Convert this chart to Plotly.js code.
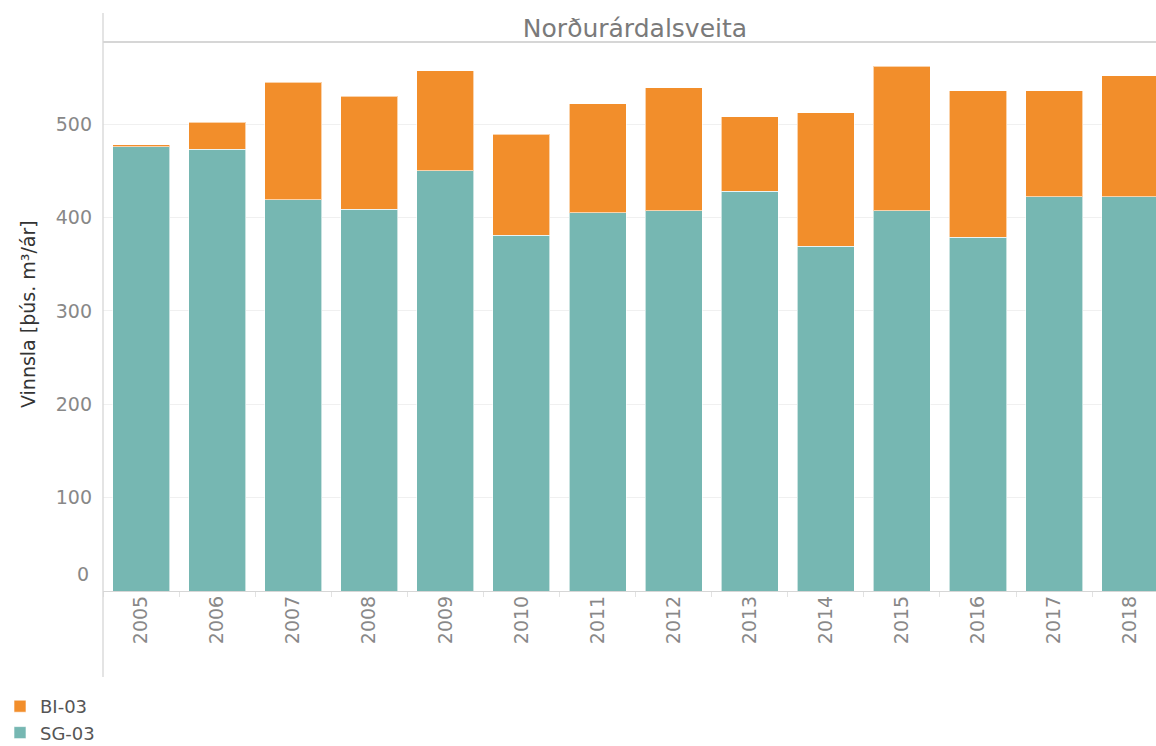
<!DOCTYPE html>
<html>
<head>
<meta charset="utf-8">
<script src="https://cdn.plot.ly/plotly-3.0.1.min.js"></script>
<style>
html,body{margin:0;padding:0;background:#fff;}
#chart{width:1156px;height:746px;}
</style>
</head>
<body>
<div id="chart"></div>
<script>
const years = ['2005','2006','2007','2008','2009','2010','2011','2012','2013','2014','2015','2016','2017','2018'];
const sg03 = [476, 473, 419, 409, 450, 381, 405, 407, 428, 369, 407, 379, 422, 422];
const bi03 = [2, 29, 126, 121, 107, 108, 117, 132, 80, 143, 155, 157, 114, 130];
const yTicks = [100, 200, 300, 400, 500];
const seriesNames = ['SG-03', 'BI-03'];
const chartTitle = 'Norðurárdalsveita';
const yTitle = 'Vinnsla [þús. m³/ár]';

const FONT = 'DejaVu Sans, sans-serif';
const traces = [
  {type:'bar', name:seriesNames[0], x:years, y:sg03,
   marker:{color:'#76B7B2', line:{color:'rgba(255,255,255,0.6)', width:1}}},
  {type:'bar', name:seriesNames[1], x:years, y:bi03,
   marker:{color:'#F28E2B', line:{color:'rgba(255,255,255,0.6)', width:1}}}
];

const layout = {
  width:1156, height:746,
  paper_bgcolor:'#fff', plot_bgcolor:'#fff',
  barmode:'stack', bargap:0.25,
  margin:{l:103, r:0, t:42, b:155},
  font:{family:FONT, color:'#888'},
  title:{text:chartTitle, font:{family:FONT, size:25, color:'#7a7a7a'},
         x:635/1156, xanchor:'center', xref:'container',
         y:1-28/746, yanchor:'middle', yref:'container'},
  xaxis:{type:'category', range:[-0.5, 13.34], tickangle:-90,
         tickfont:{family:FONT, size:19, color:'#888'},
         ticks:'outside', tickson:'boundaries', ticklen:5, tickcolor:'#e2e2e2',
         showgrid:false, showline:false, zeroline:false, fixedrange:true},
  yaxis:{range:[0, 588], tickvals:yTicks, ticktext:yTicks.map(String),
         tickfont:{family:FONT, size:19, color:'#888'},
         ticklabelstandoff:10,
         showgrid:true, gridcolor:'#f0f0f0', gridwidth:1,
         zeroline:true, zerolinecolor:'#d6d6d6', zerolinewidth:1,
         showline:false, automargin:false},
  legend:{xref:'container', yref:'container', x:0, y:1-688/746, xanchor:'left', yanchor:'top',
          font:{family:FONT, size:18, color:'#555'}, bgcolor:'rgba(0,0,0,0)'},
  shapes:[
    {type:'line', xref:'paper', yref:'paper', x0:0, x1:0, y0:(591-677)/549, y1:(591-13)/549,
     line:{color:'#d6d6d6', width:1.3}},
    {type:'line', xref:'paper', yref:'paper', x0:0, x1:1, y0:1, y1:1,
     line:{color:'#d6d6d6', width:2}}
  ],
  annotations:[
    {xref:'paper', yref:'y', x:0, y:0, xanchor:'right', yanchor:'middle', xshift:-12, yshift:17,
     text:'0', showarrow:false, font:{family:FONT, size:19, color:'#888'}},
    {xref:'paper', yref:'paper', x:0, y:(591-314)/549, xanchor:'center', yanchor:'middle', xshift:-75,
     text:yTitle, textangle:-90, showarrow:false, font:{family:FONT, size:19, color:'#333'}}
  ]
};

Plotly.newPlot('chart', traces, layout, {displayModeBar:false, staticPlot:true});
</script>
</body>
</html>
